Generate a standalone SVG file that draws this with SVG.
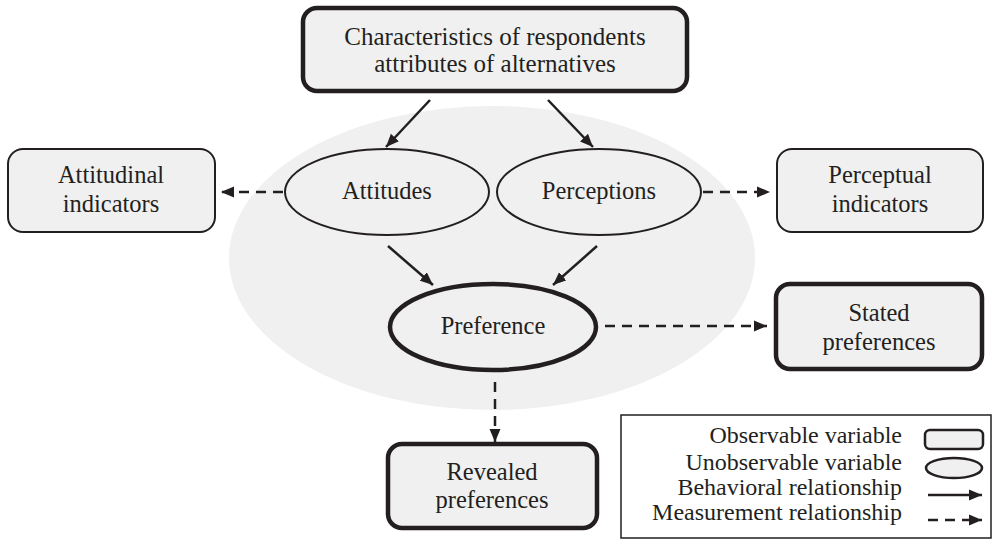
<svg xmlns="http://www.w3.org/2000/svg" width="998" height="545" viewBox="0 0 998 545">
<style>
text{font-family:'Liberation Serif','DejaVu Serif',serif;font-size:24.5px;fill:#231f20;text-anchor:middle}
.leg{text-anchor:end;font-size:24px}
.big{font-size:25px}
.box{fill:#f0f0f0;stroke:#231f20}
.thick{stroke-width:4.5}
.thin{stroke-width:2}
.conn{stroke:#231f20;stroke-width:2.5;fill:none;marker-end:url(#ah)}
.dash{stroke-dasharray:10 7}
</style>
<defs>
<marker id="ah" markerWidth="13" markerHeight="12" refX="13" refY="6" orient="auto" markerUnits="userSpaceOnUse" viewBox="0 0 13 12">
<path d="M0,0.5 L13,6 L0,11.5 z" fill="#231f20"/>
</marker>
</defs>
<rect width="998" height="545" fill="#ffffff"/>
<ellipse id="background" cx="492" cy="258" rx="263" ry="152" fill="#f0f0f0"/>
<g id="connectors">
<line class="conn" x1="430" y1="100" x2="386" y2="147"/>
<line class="conn" x1="548" y1="100" x2="593" y2="147"/>
<line class="conn dash" x1="283" y1="192" x2="221" y2="192"/>
<line class="conn dash" x1="703" y1="192" x2="770" y2="192"/>
<line class="conn" x1="388" y1="246" x2="433" y2="285"/>
<line class="conn" x1="597" y1="246" x2="553" y2="285"/>
<line class="conn dash" x1="605" y1="326" x2="767" y2="326"/>
<line class="conn dash" x1="495" y1="382" x2="495" y2="442"/>
</g>
<g id="characteristics" font-family="Liberation Serif, serif">
<rect class="box thick" x="303" y="8" width="384" height="83" rx="14"/>
<text class="big" x="495" y="45">Characteristics of respondents</text>
<text class="big" x="495" y="72">attributes of alternatives</text>
</g>
<g id="attitudinal">
<rect class="box thin" x="8" y="149" width="207" height="83" rx="15"/>
<text x="111" y="183">Attitudinal</text>
<text x="111" y="212">indicators</text>
</g>
<g id="perceptual">
<rect class="box thin" x="777" y="149" width="206" height="83" rx="15"/>
<text x="880" y="183">Perceptual</text>
<text x="880" y="212">indicators</text>
</g>
<g id="attitudes">
<ellipse class="box thin" cx="387" cy="192" rx="102" ry="43"/>
<text x="387" y="199">Attitudes</text>
</g>
<g id="perceptions">
<ellipse class="box thin" cx="599" cy="192" rx="102" ry="43"/>
<text x="599" y="199">Perceptions</text>
</g>
<g id="preference">
<ellipse class="box thick" cx="493" cy="327" rx="103" ry="43"/>
<text x="493" y="334">Preference</text>
</g>
<g id="stated">
<rect class="box thick" x="776" y="284" width="206" height="85" rx="14"/>
<text x="879" y="321">Stated</text>
<text x="879" y="350">preferences</text>
</g>
<g id="revealed">
<rect class="box thick" x="388" y="444" width="209" height="84" rx="14"/>
<text x="492" y="480">Revealed</text>
<text x="492" y="508">preferences</text>
</g>
<g id="legend">
<rect x="621" y="415" width="370" height="123" fill="#ffffff" stroke="#231f20" stroke-width="1.5"/>
<text class="leg" x="902" y="443">Observable variable</text>
<text class="leg" x="902" y="470">Unobservable variable</text>
<text class="leg" x="902" y="495">Behavioral relationship</text>
<text class="leg" x="902" y="520">Measurement relationship</text>
<rect class="box" stroke-width="2.5" x="925" y="430" width="58" height="19" rx="5"/>
<ellipse class="box" stroke-width="2.5" cx="954" cy="468" rx="28" ry="10"/>
<line class="conn" x1="928" y1="495" x2="982" y2="495"/>
<line class="conn dash" x1="928" y1="520" x2="982" y2="520"/>
</g>
</svg>
